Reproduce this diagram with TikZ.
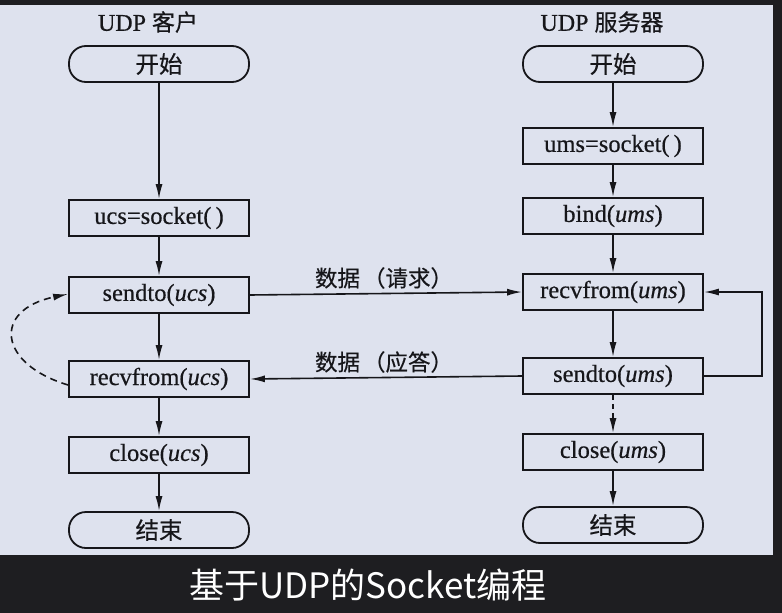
\documentclass[tikz,border=0pt]{standalone}
\usepackage{fontspec}
\setmainfont{Liberation Serif}
\newfontfamily\boxfont{Liberation Serif}[FakeBold=0.5]
\newfontfamily\cjk{Noto Sans CJK SC}
\newfontfamily\cjkb{Noto Sans CJK SC}[FakeBold=0.5]
\usetikzlibrary{arrows.meta}
\definecolor{bglight}{RGB}{222,226,238}
\definecolor{bgdark}{RGB}{30,30,33}
\definecolor{ink}{RGB}{22,22,26}
\tikzset{
  stepbox/.style={draw=ink, line width=1.8pt, minimum width=180pt, minimum height=36pt, inner sep=0pt, font=\boxfont\fontsize{24.5}{26}\selectfont, text=ink},
  termbox/.style={stepbox, rounded corners=17pt, font=\cjkb\fontsize{23.5}{26}\selectfont},
  flow/.style={draw=ink, line width=1.6pt, -{Latex[length=15pt,width=7pt]}},
  msg/.style={font=\cjkb\fontsize{22.5}{26}\selectfont, text=ink, inner sep=0pt},
  ttl/.style={font=\boxfont\fontsize{24}{26}\selectfont, text=ink, inner sep=0pt},
}
\begin{document}
\begin{tikzpicture}[x=1pt,y=-1pt]
\useasboundingbox (0,0) rectangle (782,613);
\fill[bgdark] (0,0) rectangle (782,613);
\fill[bglight] (0,5) rectangle (773,555);
% titles
\node[ttl] (tc) at (148,22) {UDP {\cjkb\fontsize{23}{26}\selectfont 客户}};
\node[ttl] (ts) at (602,22) {UDP {\cjkb\fontsize{23}{26}\selectfont 服务器}};
% client
\node[termbox] (cstart) at (159,64) {开始};
\node[stepbox] (csock) at (159,218) {ucs=socket(\,)};
\node[stepbox] (csend) at (159,295) {sendto(\textit{ucs})};
\node[stepbox] (crecv) at (159,379) {recvfrom(\textit{ucs})};
\node[stepbox] (cclose) at (159,455) {close(\textit{ucs})};
\node[termbox] (cend) at (159,530) {结束};
% server
\node[termbox] (sstart) at (613,64) {开始};
\node[stepbox] (ssock) at (613,146) {ums=socket(\,)};
\node[stepbox] (sbind) at (613,216) {bind(\textit{ums})};
\node[stepbox] (srecv) at (613,292) {recvfrom(\textit{ums})};
\node[stepbox] (ssend) at (613,376) {sendto(\textit{ums})};
\node[stepbox] (sclose) at (613,452) {close(\textit{ums})};
\node[termbox] (send) at (613,525) {结束};
% client flow
\draw[flow] (cstart) -- (csock);
\draw[flow] (csock) -- (csend);
\draw[flow] (csend) -- (crecv);
\draw[flow] (crecv) -- (cclose);
\draw[flow] (cclose) -- (cend);
\draw[flow, dash pattern=on 7pt off 5pt] ([yshift=-6pt]crecv.west) .. controls (-2,364) and (-8,310) .. ([yshift=1pt]csend.west);
% server flow
\draw[flow] (sstart) -- (ssock);
\draw[flow] (ssock) -- (sbind);
\draw[flow] (sbind) -- (srecv);
\draw[flow] (srecv) -- (ssend);
\draw[flow, dash pattern=on 5pt off 4pt] (ssend) -- (sclose);
\draw[flow] (sclose) -- (send);
\draw[flow] (ssend.east) -- ++(58,0) |- (srecv.east);
% messages
\draw[flow] (csend.east) -- (srecv.west);
\draw[flow] (ssend.west) -- (crecv.east);
\node[msg] (m1) at (384,278) {数据\hspace{3pt}（请求）};
\node[msg] (m2) at (384,362) {数据\hspace{3pt}（应答）};
% subtitle
\node[font=\cjk\fontsize{35}{40}\selectfont, text=white, inner sep=0pt] (sub) at (368,585) {基于UDP的Socket编程};
\end{tikzpicture}
\end{document}
